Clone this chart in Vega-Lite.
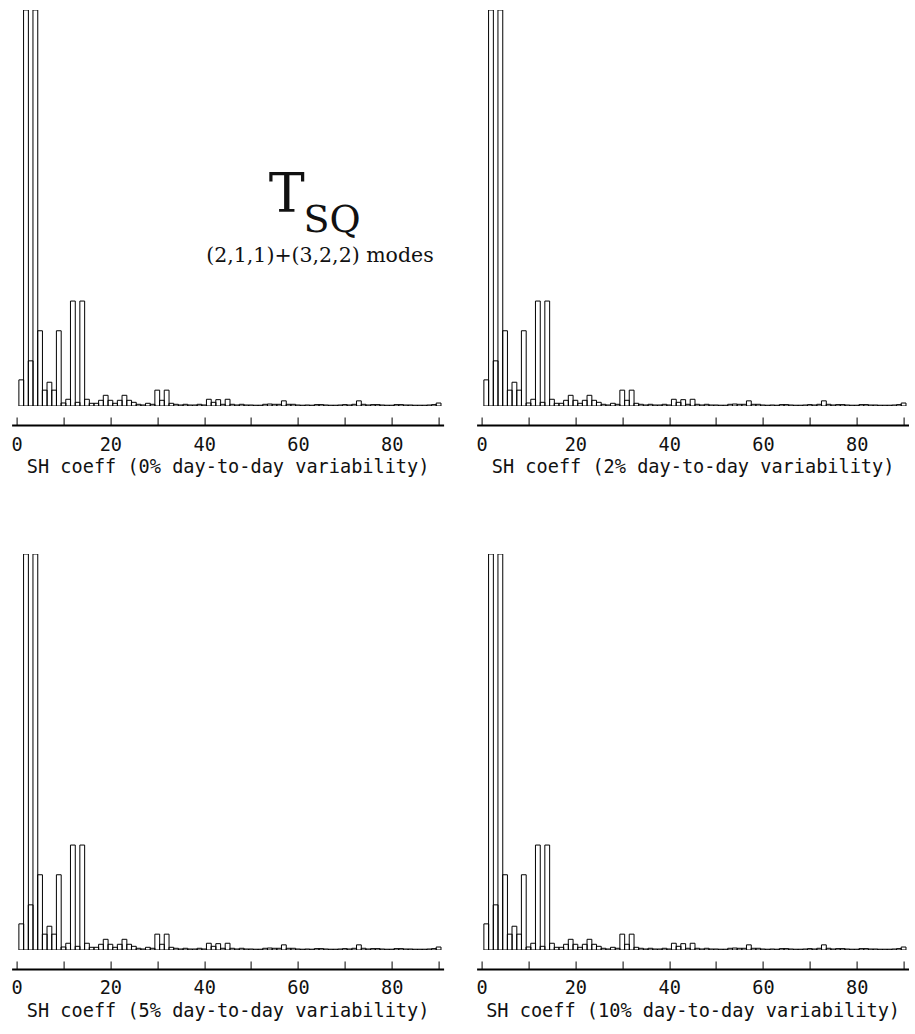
{
  "$schema": "https://vega.github.io/schema/vega-lite/v6.json",
  "padding": {"left": 10.6, "top": 10, "right": 0, "bottom": 5},
  "background": "white",
  "config": {
    "view": {"stroke": null},
    "axisX": {
      "offset": 19, "domainColor": "black", "domainWidth": 2, "tickColor": "black", "tickSize": -8, "tickWidth": 1,
      "labelFont": "DejaVu Sans Mono", "labelFontSize": 18.6, "labelColor": "#111", "labelPadding": 18,
      "labelFlush": false, "labelOverlap": false, "labelBound": false,
      "titleFont": "DejaVu Sans Mono", "titleFontSize": 18.6, "titleFontWeight": "normal", "titleColor": "#111", "titlePadding": 4,
      "grid": false
    }
  },
  "datasets": {
    "spec": [
      {"n":1,"v":0.066},{"n":2,"v":1.0},{"n":3,"v":0.114},{"n":4,"v":1.0},{"n":5,"v":0.19},
      {"n":6,"v":0.040},{"n":7,"v":0.060},{"n":8,"v":0.040},{"n":9,"v":0.19},{"n":10,"v":0.0076},
      {"n":11,"v":0.017},{"n":12,"v":0.265},{"n":13,"v":0.0093},{"n":14,"v":0.265},{"n":15,"v":0.017},
      {"n":16,"v":0.0068},{"n":17,"v":0.0068},{"n":18,"v":0.0144},{"n":19,"v":0.027},{"n":20,"v":0.0144},
      {"n":21,"v":0.0068},{"n":22,"v":0.0144},{"n":23,"v":0.027},{"n":24,"v":0.0144},{"n":25,"v":0.0093},
      {"n":26,"v":0.0043},{"n":27,"v":0.0025},{"n":28,"v":0.0068},{"n":29,"v":0.0043},{"n":30,"v":0.040},
      {"n":31,"v":0.0144},{"n":32,"v":0.040},{"n":33,"v":0.0068},{"n":34,"v":0.0043},{"n":35,"v":0.0025},
      {"n":36,"v":0.0043},{"n":37,"v":0.0025},{"n":38,"v":0.0025},{"n":39,"v":0.0043},{"n":40,"v":0.0025},
      {"n":41,"v":0.017},{"n":42,"v":0.0093},{"n":43,"v":0.016},{"n":44,"v":0.0043},{"n":45,"v":0.017},
      {"n":46,"v":0.0043},{"n":47,"v":0.0025},{"n":48,"v":0.0043},{"n":49,"v":0.0025},{"n":50,"v":0.0025},
      {"n":51,"v":0.002},{"n":52,"v":0.002},{"n":53,"v":0.0043},{"n":54,"v":0.005},{"n":55,"v":0.0043},
      {"n":56,"v":0.0043},{"n":57,"v":0.013},{"n":58,"v":0.0043},{"n":59,"v":0.0043},{"n":60,"v":0.0025},
      {"n":61,"v":0.002},{"n":62,"v":0.0025},{"n":63,"v":0.002},{"n":64,"v":0.0035},{"n":65,"v":0.0035},
      {"n":66,"v":0.0025},{"n":67,"v":0.002},{"n":68,"v":0.002},{"n":69,"v":0.0025},{"n":70,"v":0.0035},
      {"n":71,"v":0.0025},{"n":72,"v":0.0043},{"n":73,"v":0.013},{"n":74,"v":0.0043},{"n":75,"v":0.0025},
      {"n":76,"v":0.0035},{"n":77,"v":0.0035},{"n":78,"v":0.0025},{"n":79,"v":0.002},{"n":80,"v":0.002},
      {"n":81,"v":0.0035},{"n":82,"v":0.0035},{"n":83,"v":0.0025},{"n":84,"v":0.0025},{"n":85,"v":0.002},
      {"n":86,"v":0.002},{"n":87,"v":0.002},{"n":88,"v":0.0025},{"n":89,"v":0.0035},{"n":90,"v":0.0075}
    ]
  },
  "columns": 2,
  "spacing": {"row": 148, "column": 33},
  "bounds": "flush",
  "concat": [
    {
      "width": 432, "height": 396,
      "layer": [
        {
          "data": {"name": "spec"},
          "mark": {"type": "bar", "orient": "vertical", "width": 4.8, "filled": false, "color": "black", "strokeWidth": 1, "clip": true},
          "encoding": {
            "x": {"field": "n", "type": "quantitative", "scale": {"domain": [0, 90], "nice": false, "zero": false},
                  "axis": {"title": "SH coeff (0% day-to-day variability)", "values": [0,10,20,30,40,50,60,70,80,90], "labelExpr": "datum.value % 20 === 0 ? datum.label : ''"}},
            "y": {"field": "v", "type": "quantitative", "scale": {"domain": [0, 1]}, "axis": null}
          }
        },
        {
          "data": {"values": [{"label": "T", "x": 57.6, "y": 0.4907}]},
          "mark": {"type": "text", "font": "DejaVu Serif", "fontSize": 54, "align": "center", "baseline": "alphabetic", "color": "#111"},
          "encoding": {"x": {"field": "x", "type": "quantitative"}, "y": {"field": "y", "type": "quantitative"}, "text": {"field": "label"}}
        },
        {
          "data": {"values": [{"label": "SQ", "x": 61.2, "y": 0.44}]},
          "mark": {"type": "text", "font": "DejaVu Serif", "fontSize": 38, "align": "left", "baseline": "alphabetic", "color": "#111"},
          "encoding": {"x": {"field": "x", "type": "quantitative"}, "y": {"field": "y", "type": "quantitative"}, "text": {"field": "label"}}
        },
        {
          "data": {"values": [{"label": "(2,1,1)+(3,2,2)  modes", "x": 64.7, "y": 0.364}]},
          "mark": {"type": "text", "font": "DejaVu Serif", "fontSize": 20.5, "align": "center", "baseline": "alphabetic", "color": "#111"},
          "encoding": {"x": {"field": "x", "type": "quantitative"}, "y": {"field": "y", "type": "quantitative"}, "text": {"field": "label"}}
        }
      ]
    },
    {
      "width": 432, "height": 396,
      "data": {"name": "spec"},
      "mark": {"type": "bar", "orient": "vertical", "width": 4.8, "filled": false, "color": "black", "strokeWidth": 1, "clip": true},
      "encoding": {
        "x": {"field": "n", "type": "quantitative", "scale": {"domain": [0, 90], "nice": false, "zero": false},
              "axis": {"title": "SH coeff (2% day-to-day variability)", "values": [0,10,20,30,40,50,60,70,80,90], "labelExpr": "datum.value % 20 === 0 ? datum.label : ''"}},
        "y": {"field": "v", "type": "quantitative", "scale": {"domain": [0, 1]}, "axis": null}
      }
    },
    {
      "width": 432, "height": 396,
      "data": {"name": "spec"},
      "mark": {"type": "bar", "orient": "vertical", "width": 4.8, "filled": false, "color": "black", "strokeWidth": 1, "clip": true},
      "encoding": {
        "x": {"field": "n", "type": "quantitative", "scale": {"domain": [0, 90], "nice": false, "zero": false},
              "axis": {"title": "SH coeff (5% day-to-day variability)", "values": [0,10,20,30,40,50,60,70,80,90], "labelExpr": "datum.value % 20 === 0 ? datum.label : ''"}},
        "y": {"field": "v", "type": "quantitative", "scale": {"domain": [0, 1]}, "axis": null}
      }
    },
    {
      "width": 432, "height": 396,
      "data": {"name": "spec"},
      "mark": {"type": "bar", "orient": "vertical", "width": 4.8, "filled": false, "color": "black", "strokeWidth": 1, "clip": true},
      "encoding": {
        "x": {"field": "n", "type": "quantitative", "scale": {"domain": [0, 90], "nice": false, "zero": false},
              "axis": {"title": "SH coeff (10% day-to-day variability)", "values": [0,10,20,30,40,50,60,70,80,90], "labelExpr": "datum.value % 20 === 0 ? datum.label : ''"}},
        "y": {"field": "v", "type": "quantitative", "scale": {"domain": [0, 1]}, "axis": null}
      }
    }
  ]
}
